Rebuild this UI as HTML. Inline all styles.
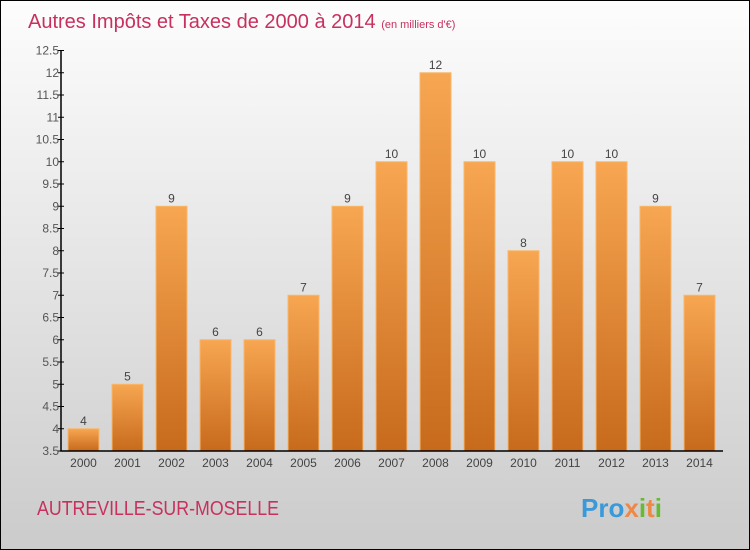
<!DOCTYPE html>
<html><head><meta charset="utf-8"><style>
body{margin:0}
#c{width:748px;height:548px;border:1px solid #000;background:linear-gradient(#fdfdfd,#cbcbcb);position:relative;font-family:"Liberation Sans",sans-serif}
</style></head><body>
<div id="c">
<svg id="s" width="748" height="548" style="position:absolute;left:0;top:0">
<text x="27" y="27" font-size="20" fill="#c8305e">Autres Impôts et Taxes de 2000 à 2014 <tspan font-size="11">(en milliers d'€)</tspan></text>
<text x="36" y="514" font-size="20" fill="#c8305e" textLength="242" lengthAdjust="spacingAndGlyphs">AUTREVILLE-SUR-MOSELLE</text>
<text x="580" y="516" font-size="26" font-weight="bold" fill="#3a9ad9">Pro<tspan fill="#e84">x</tspan><tspan fill="#6b3">i</tspan><tspan fill="#e84">t</tspan><tspan fill="#6b3">i</tspan></text>
<defs><linearGradient id="g" x1="0" y1="0" x2="0" y2="1"><stop offset="0" stop-color="#f7a651"/><stop offset="1" stop-color="#c76a1c"/></linearGradient></defs>
</svg>
</div>
<script>
const years=["2000","2001","2002","2003","2004","2005","2006","2007","2008","2009","2010","2011","2012","2013","2014"];
const values=[4,5,9,6,6,7,9,10,12,10,8,10,10,9,7];
const ticks=[3.5,4,4.5,5,5.5,6,6.5,7,7.5,8,8.5,9,9.5,10,10.5,11,11.5,12,12.5];
const s=document.getElementById('s');const NS='http://www.w3.org/2000/svg';
const y=v=>450-(v-3.5)*44.5;const x=i=>82.5+i*44;
function mk(t,a,p){const e=document.createElementNS(NS,t);for(const k in a)e.setAttribute(k,a[k]);(p||s).appendChild(e);return e;}
ticks.forEach(t=>{
const l=mk('line',{x1:57,x2:63,y1:y(t),y2:y(t),stroke:'#000'});


const tx=mk('text',{x:58,y:y(t)+4,'font-size':12,fill:'#555','text-anchor':'end'});tx.textContent=String(t);


});
values.forEach((v,i)=>{
const r=mk('rect',{x:x(i)-15.5,y:y(v),width:31,height:450-y(v),fill:'url(#g)',stroke:'#f9b76a','stroke-width':1});


const t=mk('text',{x:x(i),y:y(v)-4,'font-size':12,fill:'#444','text-anchor':'middle'});t.textContent=v;


const yl=mk('text',{x:x(i),y:466,'font-size':12,fill:'#444','text-anchor':'middle'});yl.textContent=years[i];


});
const ax=mk('path',{d:'M60,50 V450 H722',stroke:'#000',fill:'none','stroke-width':1.5});


</script>
</body></html>
